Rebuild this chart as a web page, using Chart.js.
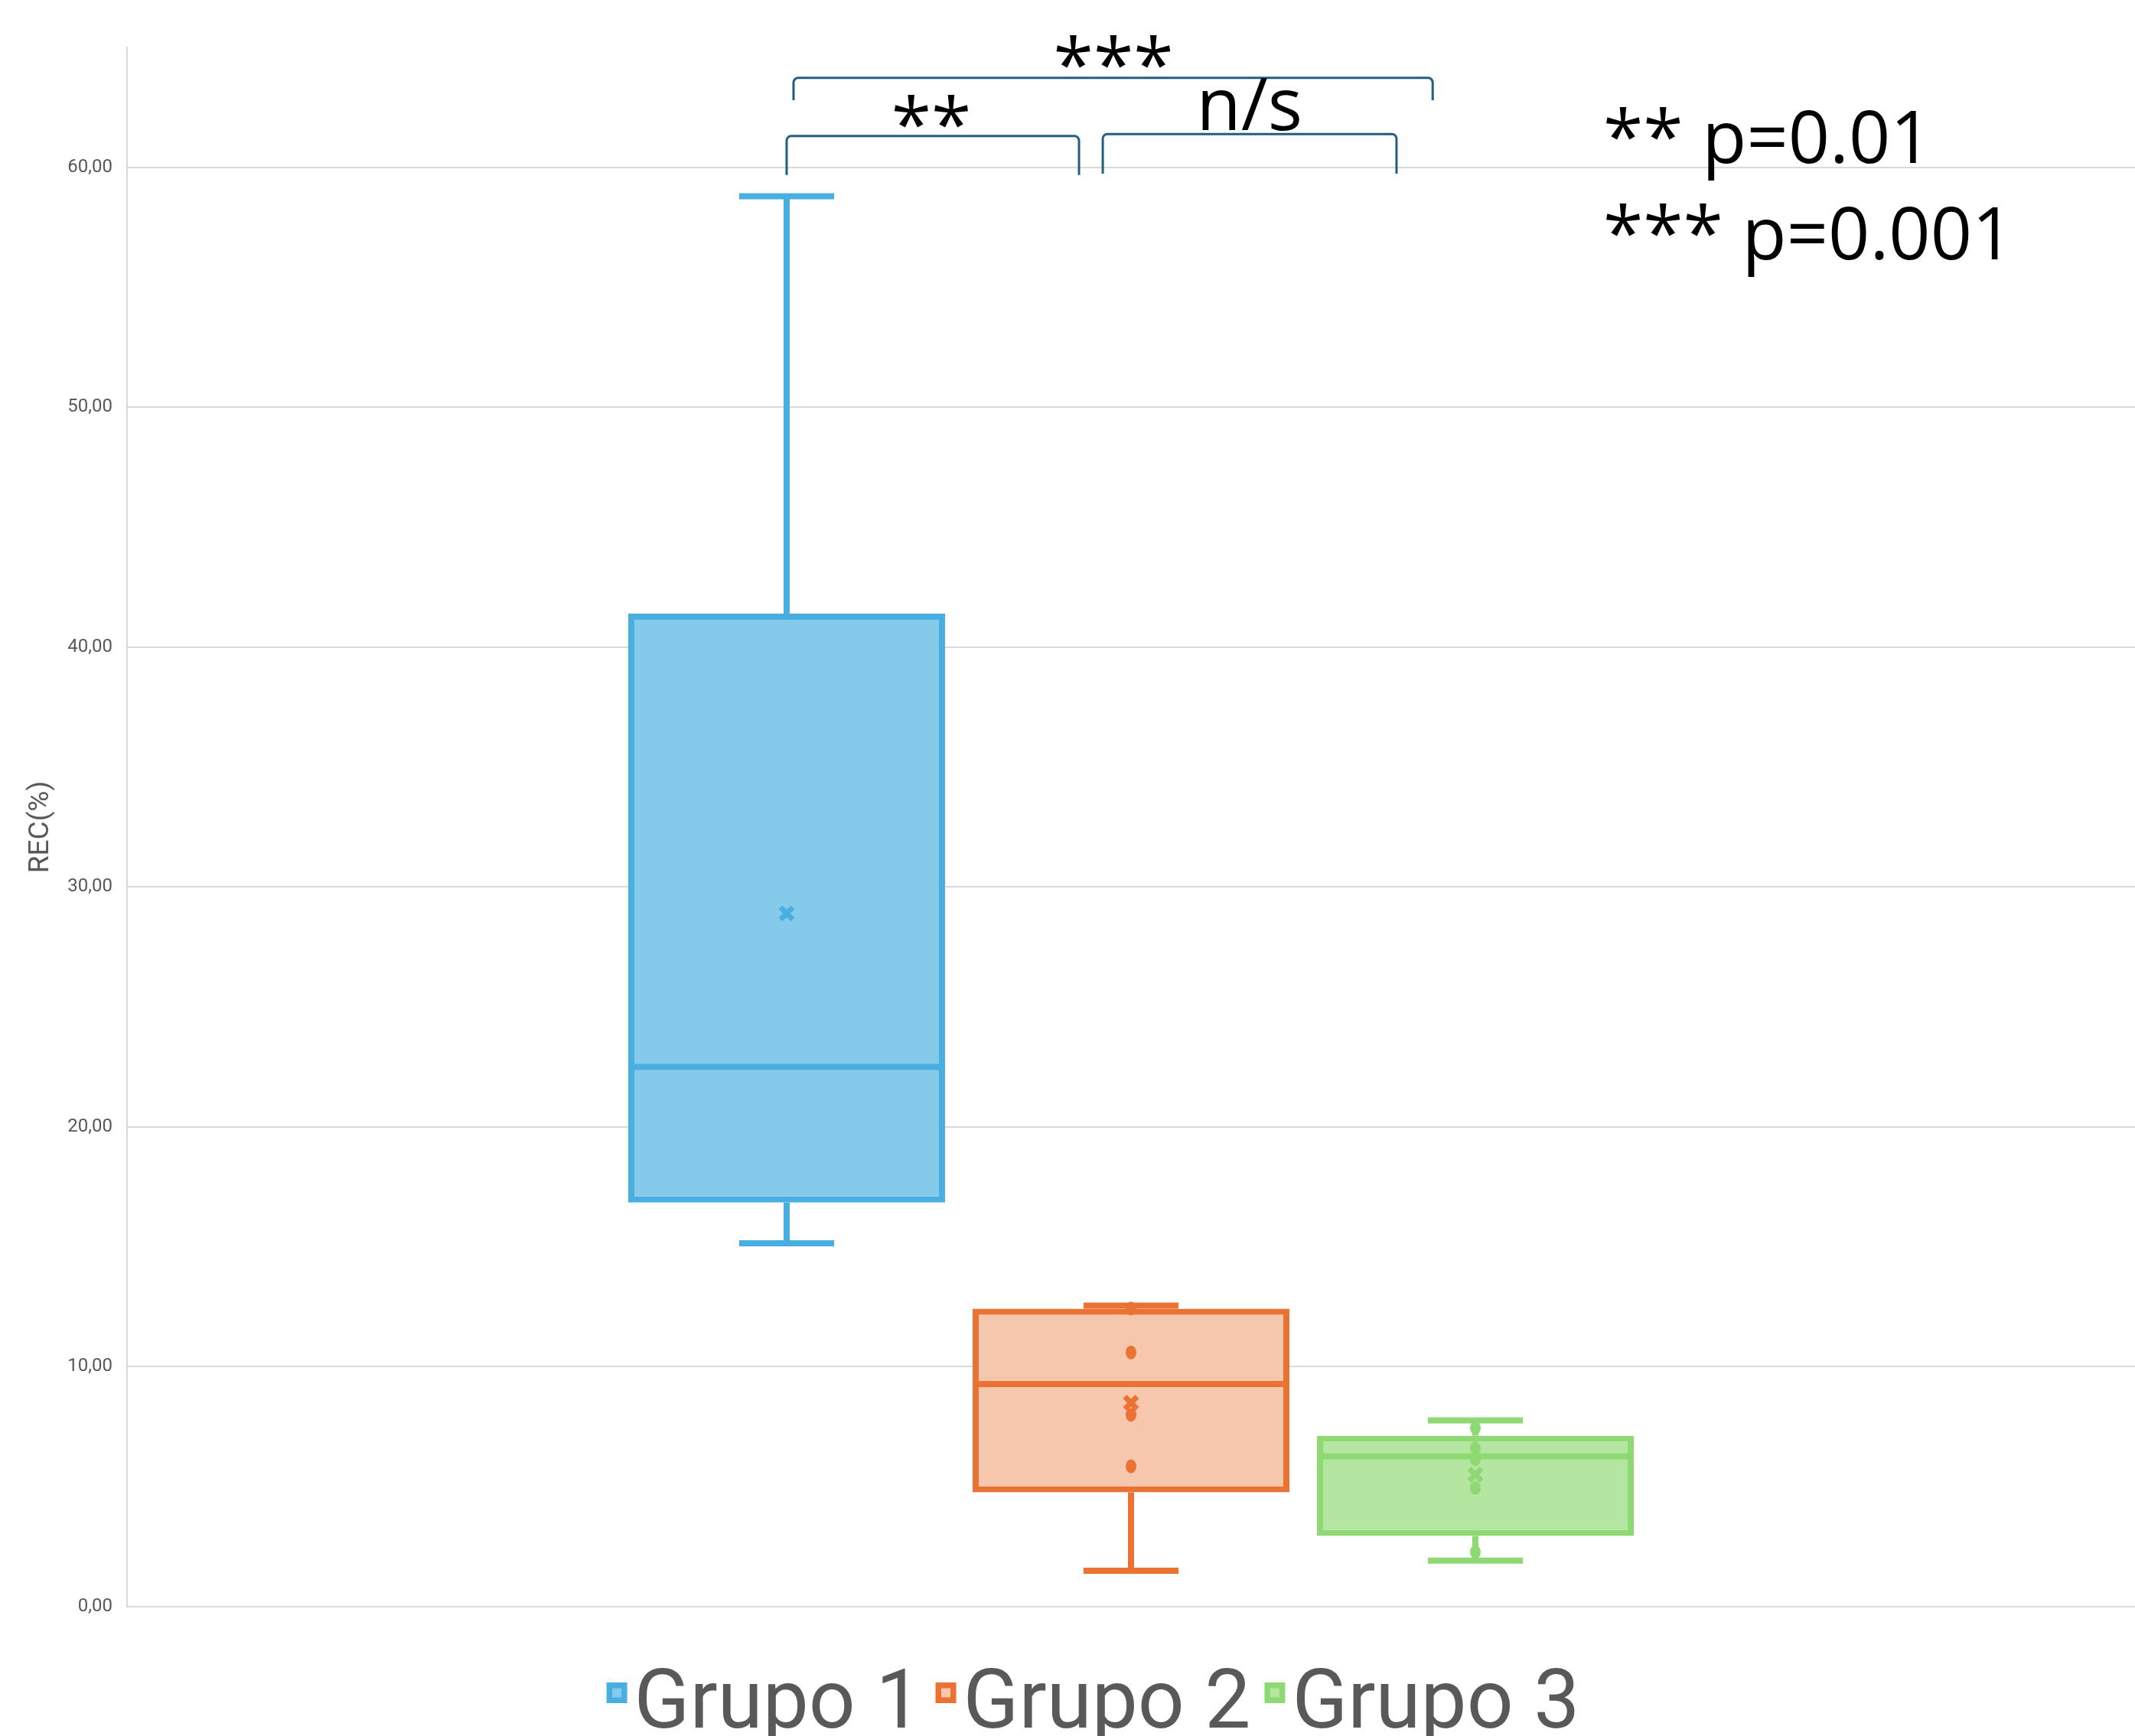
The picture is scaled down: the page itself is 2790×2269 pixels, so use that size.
<!DOCTYPE html>
<html>
<head>
<meta charset="utf-8">
<script src="https://cdn.jsdelivr.net/npm/chart.js@4/dist/chart.umd.min.js"></script>
<style>
  html, body { margin: 0; padding: 0; background: #fff; overflow: hidden; }
  #wrap { width: 2790px; height: 2269px; position: relative; }
</style>
</head>
<body>
<div id="wrap"><canvas id="rec-chart"></canvas></div>
<script>
// groups and box statistics (REC %)
const groups = ['Grupo 1', 'Grupo 2', 'Grupo 3'];
const whiskerLow = [15.15, 1.5, 1.92];
const quart1 = [16.85, 4.77, 2.95];
const medians = [22.5, 9.28, 6.27];
const quart3 = [41.4, 12.42, 7.13];
const whiskerHigh = [58.8, 12.55, 7.77];
const means = [28.9, 8.5, 5.5];
const innerPoints = [[], [12.43, 10.6, 8.0, 5.85], [7.45, 6.6, 6.15, 4.95, 2.28]];

// y axis
const yMax = 65;
const yStep = 10;

// significance marks: x in group slots from Grupo 1, y in axis units
const brackets = [
  { text: '**',  left: 0.0,   right: 0.849, top: 61.31, foot: 59.68, tx: 0.42,  ty: 60.70 },
  { text: 'n/s', left: 0.918, right: 1.771, top: 61.39, foot: 59.74, tx: 1.344, ty: 61.56 },
  { text: '***', left: 0.02,  right: 1.876, top: 63.73, foot: 62.80, tx: 0.949, ty: 63.18 }
];
const pNotes = ['** p=0.01', '*** p=0.001'];
const pNoteY = [60.19, 56.17];
const pNoteX = 2.371;

const strokeCol = ['#48afe0', '#ea7233', '#8ed973'];
const fillCol = ['#85caeb', '#f6c6ad', '#b4e6a2'];
const textGrey = '#595959';

Chart.defaults.font.family = 'Roboto';

(() => {
    const cx = document.getElementById('rec-chart');

    const boxParts = {
        id: 'boxParts',
        beforeDatasetsDraw(chart) {
            const ctx = chart.ctx;
            const y = chart.scales.y;
            ctx.save();
            groups.forEach((g, i) => {
                const el = chart.getDatasetMeta(i).data[0];
                const capW = el.width * 0.3;
                ctx.strokeStyle = strokeCol[i];
                ctx.lineWidth = 8;
                ctx.lineCap = 'butt';
                ctx.beginPath();
                ctx.moveTo(el.x, y.getPixelForValue(quart3[i]));
                ctx.lineTo(el.x, y.getPixelForValue(whiskerHigh[i]));
                ctx.moveTo(el.x, y.getPixelForValue(quart1[i]));
                ctx.lineTo(el.x, y.getPixelForValue(whiskerLow[i]));
                ctx.moveTo(el.x - capW / 2, y.getPixelForValue(whiskerHigh[i]));
                ctx.lineTo(el.x + capW / 2, y.getPixelForValue(whiskerHigh[i]));
                ctx.moveTo(el.x - capW / 2, y.getPixelForValue(whiskerLow[i]));
                ctx.lineTo(el.x + capW / 2, y.getPixelForValue(whiskerLow[i]));
                ctx.stroke();
            });
            ctx.restore();
        },
        afterDatasetsDraw(chart) {
            const ctx = chart.ctx;
            const y = chart.scales.y;
            ctx.save();
            groups.forEach((g, i) => {
                const el = chart.getDatasetMeta(i).data[0];
                ctx.strokeStyle = strokeCol[i];
                ctx.fillStyle = strokeCol[i];
                ctx.lineWidth = 8;
                // median
                const my = y.getPixelForValue(medians[i]);
                ctx.beginPath();
                ctx.moveTo(el.x - el.width / 2, my);
                ctx.lineTo(el.x + el.width / 2, my);
                ctx.stroke();
                // points
                innerPoints[i].forEach(v => {
                    ctx.beginPath();
                    ctx.ellipse(el.x, y.getPixelForValue(v), 7, 9, 0, 0, Math.PI * 2);
                    ctx.fill();
                });
                // mean marker
                const mY = y.getPixelForValue(means[i]);
                const s = 8;
                ctx.lineWidth = 7;
                ctx.beginPath();
                ctx.moveTo(el.x - s, mY - s);
                ctx.lineTo(el.x + s, mY + s);
                ctx.moveTo(el.x + s, mY - s);
                ctx.lineTo(el.x - s, mY + s);
                ctx.stroke();
            });
            ctx.restore();
        },
        afterDraw(chart) {
            const ctx = chart.ctx;
            const y = chart.scales.y;
            const x0 = chart.getDatasetMeta(0).data[0].x;
            const slot = chart.getDatasetMeta(1).data[0].x - x0;
            ctx.save();
            // brackets
            brackets.forEach(b => {
                const l = x0 + b.left * slot;
                const r = x0 + b.right * slot;
                const t = y.getPixelForValue(b.top);
                const f = y.getPixelForValue(b.foot);
                const rad = 6;
                ctx.strokeStyle = '#215f80';
                ctx.lineWidth = 3;
                ctx.beginPath();
                ctx.moveTo(l, f);
                ctx.lineTo(l, t + rad);
                ctx.arcTo(l, t, l + rad, t, rad);
                ctx.lineTo(r - rad, t);
                ctx.arcTo(r, t, r, t + rad, rad);
                ctx.lineTo(r, f);
                ctx.stroke();
            });
            ctx.fillStyle = '#000';
            ctx.font = '95px "Open Sans"';
            ctx.textBaseline = 'alphabetic';
            ctx.textAlign = 'center';
            brackets.forEach(b => {
                ctx.fillText(b.text, x0 + b.tx * slot, y.getPixelForValue(b.ty));
            });
            ctx.textAlign = 'left';
            pNotes.forEach((t, i) => {
                ctx.fillText(t, x0 + pNoteX * slot, y.getPixelForValue(pNoteY[i]));
            });

            // legend
            ctx.font = '107px Roboto';
            const box = 27, gapText = 36, gapItem = 18;
            const widths = groups.map(g => ctx.measureText(g).width);
            const total = widths.reduce((a, w) => a + gapText + w + gapItem, 0) - gapItem;
            let lx = chart.width * 0.512 - total / 2;
            const boxTop = 2199, base = 2258;
            groups.forEach((g, i) => {
                ctx.fillStyle = strokeCol[i];
                ctx.fillRect(lx, boxTop, box, box);
                ctx.fillStyle = fillCol[i];
                ctx.fillRect(lx + 7.5, boxTop + 7.5, box - 15, box - 15);
                ctx.fillStyle = textGrey;
                ctx.fillText(g, lx + gapText, base);
                lx += gapText + widths[i] + gapItem;
            });
            ctx.restore();
        }
    };

    new Chart(cx, {
        type: 'bar',
        data: {
            labels: [''],
            datasets: groups.map((g, i) => ({
                label: g,
                data: [[quart1[i], quart3[i]]],
                backgroundColor: fillCol[i],
                borderColor: strokeCol[i],
                borderWidth: 8,
                borderSkipped: false,
                categoryPercentage: 0.5145,
                barPercentage: 0.92
            }))
        },
        options: {
            responsive: true,
            maintainAspectRatio: false,
            animation: false,
            layout: {
                padding: { top: 62, right: -8, bottom: 169, left: 0 }
            },
            plugins: {
                legend: { display: false },
                tooltip: { enabled: false }
            },
            scales: {
                x: {
                    ticks: { display: false },
                    grid: { display: false },
                    border: { display: true, color: '#d9d9d9', width: 2 },
                    afterFit: s => { s.height = 0; }
                },
                y: {
                    min: 0,
                    max: yMax,
                    ticks: {
                        stepSize: yStep,
                        includeBounds: false,
                        padding: 19,
                        color: textGrey,
                        font: { size: 24 },
                        callback: v => v.toFixed(2).replace('.', ',')
                    },
                    grid: { color: '#d9d9d9', lineWidth: 2, drawTicks: false },
                    border: { display: true, color: '#d9d9d9', width: 2 },
                    title: {
                        display: true,
                        text: 'REC(%)',
                        color: textGrey,
                        font: { size: 37 },
                        padding: { top: 32, bottom: 0 }
                    },
                    afterFit: s => { s.width = 166; }
                }
            }
        },
        plugins: [boxParts]
    });
})()
</script>
</body>
</html>
